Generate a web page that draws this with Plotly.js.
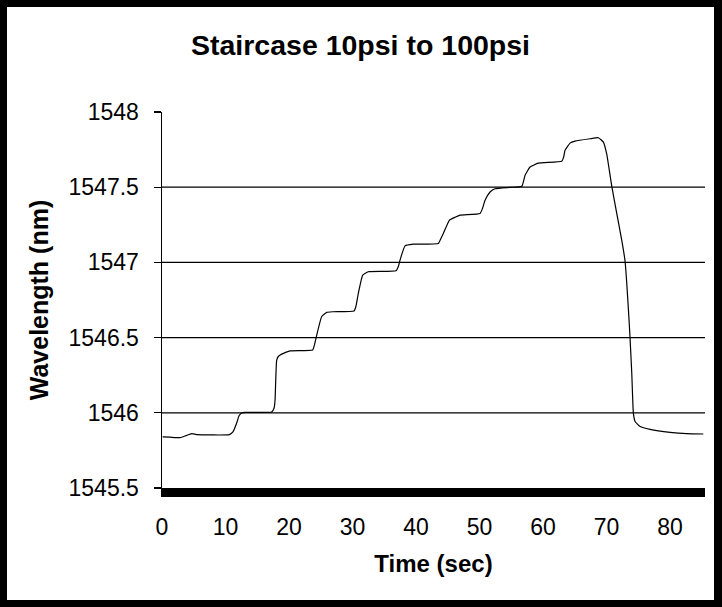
<!DOCTYPE html>
<html>
<head>
<meta charset="utf-8">
<script src="https://cdn.plot.ly/plotly-3.0.1.min.js"></script>
<style>
  html, body { margin: 0; padding: 0; background: #000; width: 722px; height: 607px; overflow: hidden; }
  #plot { position: absolute; left: 7px; top: 7px; width: 707px; height: 593px; background: #fff; }
</style>
</head>
<body>
<div id="plot"></div>
<script>
// Time (sec)
const timeSec = [0.1, 1.26, 2.83, 3.78, 4.68, 5.46, 10.6, 11.2, 11.76, 12.13, 12.55, 13.07, 17.27, 17.64, 17.8, 18.06, 18.35, 18.85,
  20.16, 23.73, 24.0, 24.25, 25.15, 25.94, 26.93, 30.24, 30.55, 30.91, 31.61, 32.49, 36.85, 37.24, 37.48, 38.27, 39.57,
  43.51, 43.94, 44.3, 45.24, 46.14, 46.93, 50.08, 50.47, 50.87, 51.65, 52.44, 54.8, 56.65, 57.17, 57.95, 59.26, 62.95,
  63.23, 63.46, 64.25, 65.04, 67.4, 68.71, 69.5, 70.03, 70.82, 71.61, 72.39, 72.91, 73.18, 73.54, 73.7, 73.97, 74.22,
  74.49, 75.28, 76.85, 80.0, 82.63, 85.24];
// Wavelength (nm)
const wavelengthNm = [1545.840, 1545.838, 1545.835, 1545.848, 1545.861, 1545.855, 1545.855, 1545.875, 1545.932, 1545.980, 1545.998, 1546.003, 1546.005, 1546.030, 1546.084, 1546.350, 1546.376, 1546.390,
  1546.412, 1546.418, 1546.450, 1546.496, 1546.640, 1546.668, 1546.672, 1546.677, 1546.710, 1546.794, 1546.916, 1546.938, 1546.944, 1546.976, 1547.015, 1547.110, 1547.121,
  1547.126, 1547.161, 1547.192, 1547.280, 1547.300, 1547.314, 1547.325, 1547.360, 1547.413, 1547.468, 1547.490, 1547.499, 1547.506, 1547.579, 1547.634, 1547.660, 1547.672,
  1547.698, 1547.745, 1547.793, 1547.806, 1547.822, 1547.829, 1547.800, 1547.720, 1547.506, 1547.325, 1547.148, 1547.009, 1546.861, 1546.617, 1546.495, 1546.263, 1545.998,
  1545.942, 1545.909, 1545.890, 1545.870, 1545.861, 1545.859];

const xTicks = [0, 10, 20, 30, 40, 50, 60, 70, 80];
const yTicks = [1545.5, 1546, 1546.5, 1547, 1547.5, 1548];
const yGridVals = [1546, 1546.5, 1547, 1547.5];

const titleText = 'Staircase 10psi to 100psi';
const xTitle = 'Time (sec)';
const yTitle = 'Wavelength (nm)';

const FONT = 'Liberation Sans, Arial, sans-serif';

const trace = {
  x: timeSec,
  y: wavelengthNm,
  type: 'scatter',
  mode: 'lines',
  line: { color: '#000', width: 1.2, shape: 'spline', smoothing: 0.4 },
  hoverinfo: 'skip'
};

const shapes = yGridVals.map(v => ({
  type: 'line', xref: 'paper', x0: 0, x1: 1, yref: 'y', y0: v, y1: v,
  line: { color: '#000', width: 1.3 }, layer: 'below'
}));

const layout = {
  width: 707,
  height: 593,
  paper_bgcolor: '#fff',
  plot_bgcolor: '#fff',
  showlegend: false,
  margin: { l: 155, r: 9, t: 104.5, b: 112 },
  title: {
    text: '<b>' + titleText + '</b>',
    font: { family: FONT, size: 28.5, color: '#000' },
    x: 0.5, xref: 'container', xanchor: 'center',
    y: 1 - 38 / 593, yref: 'container', yanchor: 'middle'
  },
  xaxis: {
    range: [0, 85.5],
    tickvals: xTicks,
    ticktext: xTicks.map(String),
    showgrid: false,
    zeroline: false,
    showline: true,
    linecolor: '#000',
    linewidth: 9,
    ticks: '',
    ticklabelstandoff: 10,
    tickfont: { family: FONT, size: 23, color: '#000' },
    title: { text: '<b>' + xTitle + '</b>', font: { family: FONT, size: 24, color: '#000' }, standoff: 20 },
    fixedrange: true
  },
  yaxis: {
    range: [1545.5, 1548],
    tickvals: yTicks,
    ticktext: yTicks.map(String),
    showgrid: false,
    zeroline: false,
    showline: true,
    linecolor: '#000',
    linewidth: 1.5,
    ticks: 'outside',
    ticklen: 7,
    tickwidth: 1.3,
    tickcolor: '#000',
    ticklabelstandoff: 10,
    tickfont: { family: FONT, size: 23, color: '#000' },
    title: { text: '<b>' + yTitle + '</b>', font: { family: FONT, size: 25, color: '#000' }, standoff: 13 },
    fixedrange: true
  },
  shapes: shapes
};

Plotly.newPlot('plot', [trace], layout, { displayModeBar: false, staticPlot: true });
</script>
</body>
</html>
